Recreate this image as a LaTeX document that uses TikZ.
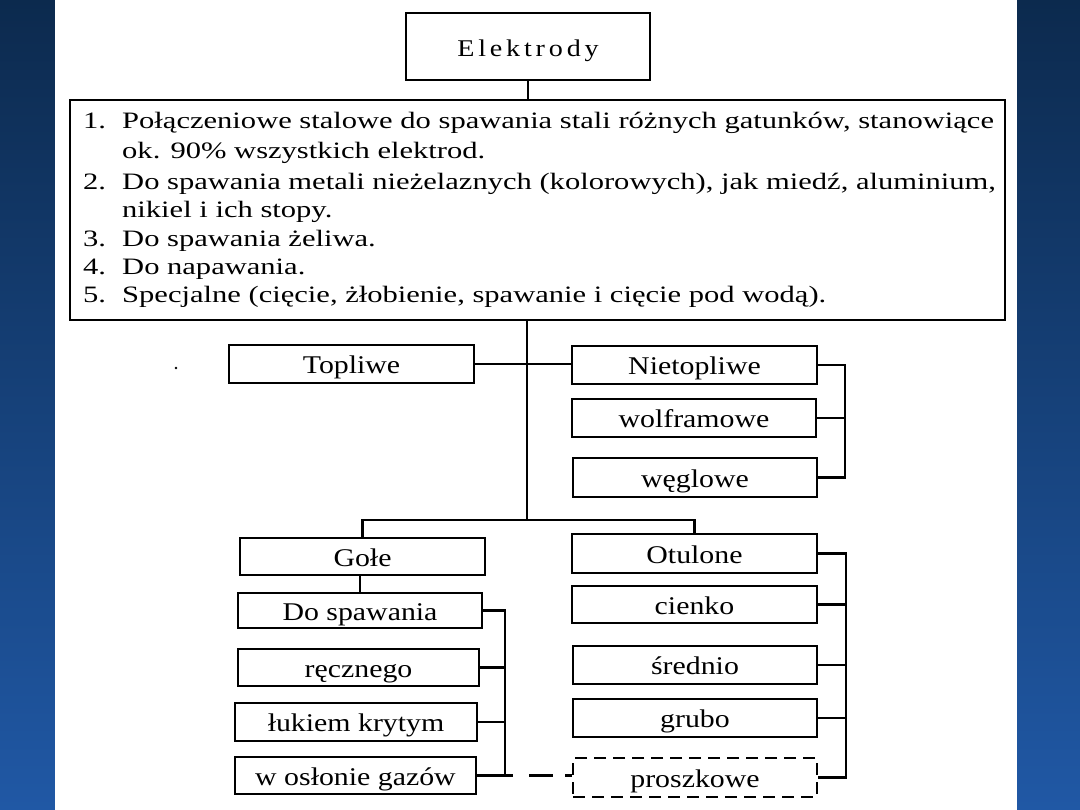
\documentclass[tikz,border=0pt]{standalone}
\usepackage{fontspec}
\setmainfont{Liberation Serif}
\newfontfamily\listfont[FakeStretch=1.3]{Liberation Serif}
\newfontfamily\boxfont[FakeStretch=1.17]{Liberation Serif}
\newfontfamily\titlefont[FakeStretch=1.17,LetterSpace=16]{Liberation Serif}
\usetikzlibrary{calc}
\definecolor{bgtop}{RGB}{12,42,78}
\definecolor{bgbot}{RGB}{32,88,165}
\begin{document}
\begin{tikzpicture}[x=1pt,y=-1pt,
  box/.style={draw, line width=2.6pt, inner sep=0pt, text height=19pt, text depth=0pt,
    font=\boxfont\fontsize{25.5}{30}\selectfont},
  dbox/.style={box, line width=2.2pt, dash pattern=on 12pt off 7pt},
  conn/.style={line width=2.6pt},
  li/.style={anchor=base west, inner sep=0pt, font=\listfont\fontsize{23.5}{29}\selectfont}]
\useasboundingbox (0,0) rectangle (1080,810);
\shade[top color=bgtop, bottom color=bgbot] (0,0) rectangle (1080,810);
\fill[white] (55,0) rectangle (1017,810);

% title
\node[box, minimum width=244pt, minimum height=67pt, text height=21pt,
  font=\titlefont\fontsize{24}{28}\selectfont] (elek) at (528,46.5) {Elektrody};

% list box
\node[draw, line width=2.6pt, inner sep=0pt, minimum width=935pt, minimum height=220pt] (main) at (537.5,210) {};
\node[li] (n1) at (83,129) {1.};
\node[li] (t1) at (122,129) {Połączeniowe stalowe do spawania stali różnych gatunków, stanowiące};
\node[li] (t2) at (122,159) {ok. 90\% wszystkich elektrod.};
\node[li] (n2) at (83,190) {2.};
\node[li] (t3) at (122,190) {Do spawania metali nieżelaznych (kolorowych), jak miedź, aluminium,};
\node[li] (t4) at (122,218) {nikiel i ich stopy.};
\node[li] (n3) at (83,247) {3.};
\node[li] (t5) at (122,247) {Do spawania żeliwa.};
\node[li] (n4) at (83,275) {4.};
\node[li] (t6) at (122,275) {Do napawania.};
\node[li] (n5) at (83,303) {5.};
\node[li] (t7) at (122,303) {Specjalne (cięcie, żłobienie, spawanie i cięcie pod wodą).};

% upper level
\node[box, minimum width=245pt, minimum height=38pt] (topl) at (351.5,364) {Topliwe};
\node[box, minimum width=245pt, minimum height=38pt] (niet) at (694.5,365) {Nietopliwe};
\node[box, minimum width=244pt, minimum height=38pt] (wolf) at (694,418) {wolframowe};
\node[box, minimum width=244pt, minimum height=39pt] (wegl) at (695,477.5) {węglowe};

% lower left
\node[box, minimum width=245pt, minimum height=37pt] (gole) at (362.5,556.5) {Gołe};
\node[box, minimum width=244pt, minimum height=35pt] (dosp) at (360,610.5) {Do spawania};
\node[box, minimum width=241pt, minimum height=37pt] (recz) at (358.5,667.5) {ręcznego};
\node[box, minimum width=242pt, minimum height=38pt] (luk) at (356,722) {łukiem krytym};
\node[box, minimum width=241pt, minimum height=37pt] (wosl) at (355.5,775.5) {w osłonie gazów};

% lower right
\node[box, minimum width=245pt, minimum height=39pt] (otul) at (694.5,553.5) {Otulone};
\node[box, minimum width=245pt, minimum height=37pt] (cien) at (694.5,604.5) {cienko};
\node[box, minimum width=244pt, minimum height=38pt] (sred) at (695,665) {średnio};
\node[box, minimum width=244pt, minimum height=38pt] (grub) at (695,718) {grubo};
\node[dbox, minimum width=244pt, minimum height=39pt] (prosz) at (695,777.5) {proszkowe};

% connectors
\coordinate (j) at (527,520);
\coordinate (lb) at (505,0);
\coordinate (rb1) at (845,0);
\coordinate (rb2) at (846,0);
\draw[conn] (elek.south) -- (elek.south |- main.north);
\draw[conn] (main.south -| j) -- (j);
\draw[conn] (topl.east) -- (topl.east -| niet.west);
\draw[conn] (niet.east) -- (niet.east -| rb1) -- (wegl.east -| rb1) -- (wegl.east);
\draw[conn] (wolf.east) -- (wolf.east -| rb1);
\draw[conn] (gole.north) -- (gole.north |- j) -- (otul.north |- j) -- (otul.north);
\draw[conn] (gole.south -| dosp.north) -- (dosp.north);
\draw[conn] (dosp.east) -- (dosp.east -| lb) -- (wosl.east -| lb) -- (wosl.east);
\draw[conn] (recz.east) -- (recz.east -| lb);
\draw[conn] (luk.east) -- (luk.east -| lb);
\draw[conn, dash pattern=on 8pt off 16pt on 24pt off 12pt on 10pt off 0pt] (wosl.east -| lb) -- (wosl.east -| prosz.west);
\draw[conn] (otul.east) -- (otul.east -| rb2) -- (prosz.east -| rb2) -- (prosz.east);
\draw[conn] (cien.east) -- (cien.east -| rb2);
\draw[conn] (sred.east) -- (sred.east -| rb2);
\draw[conn] (grub.east) -- (grub.east -| rb2);
\fill (176,368) circle (1.3pt);
\end{tikzpicture}
\end{document}
